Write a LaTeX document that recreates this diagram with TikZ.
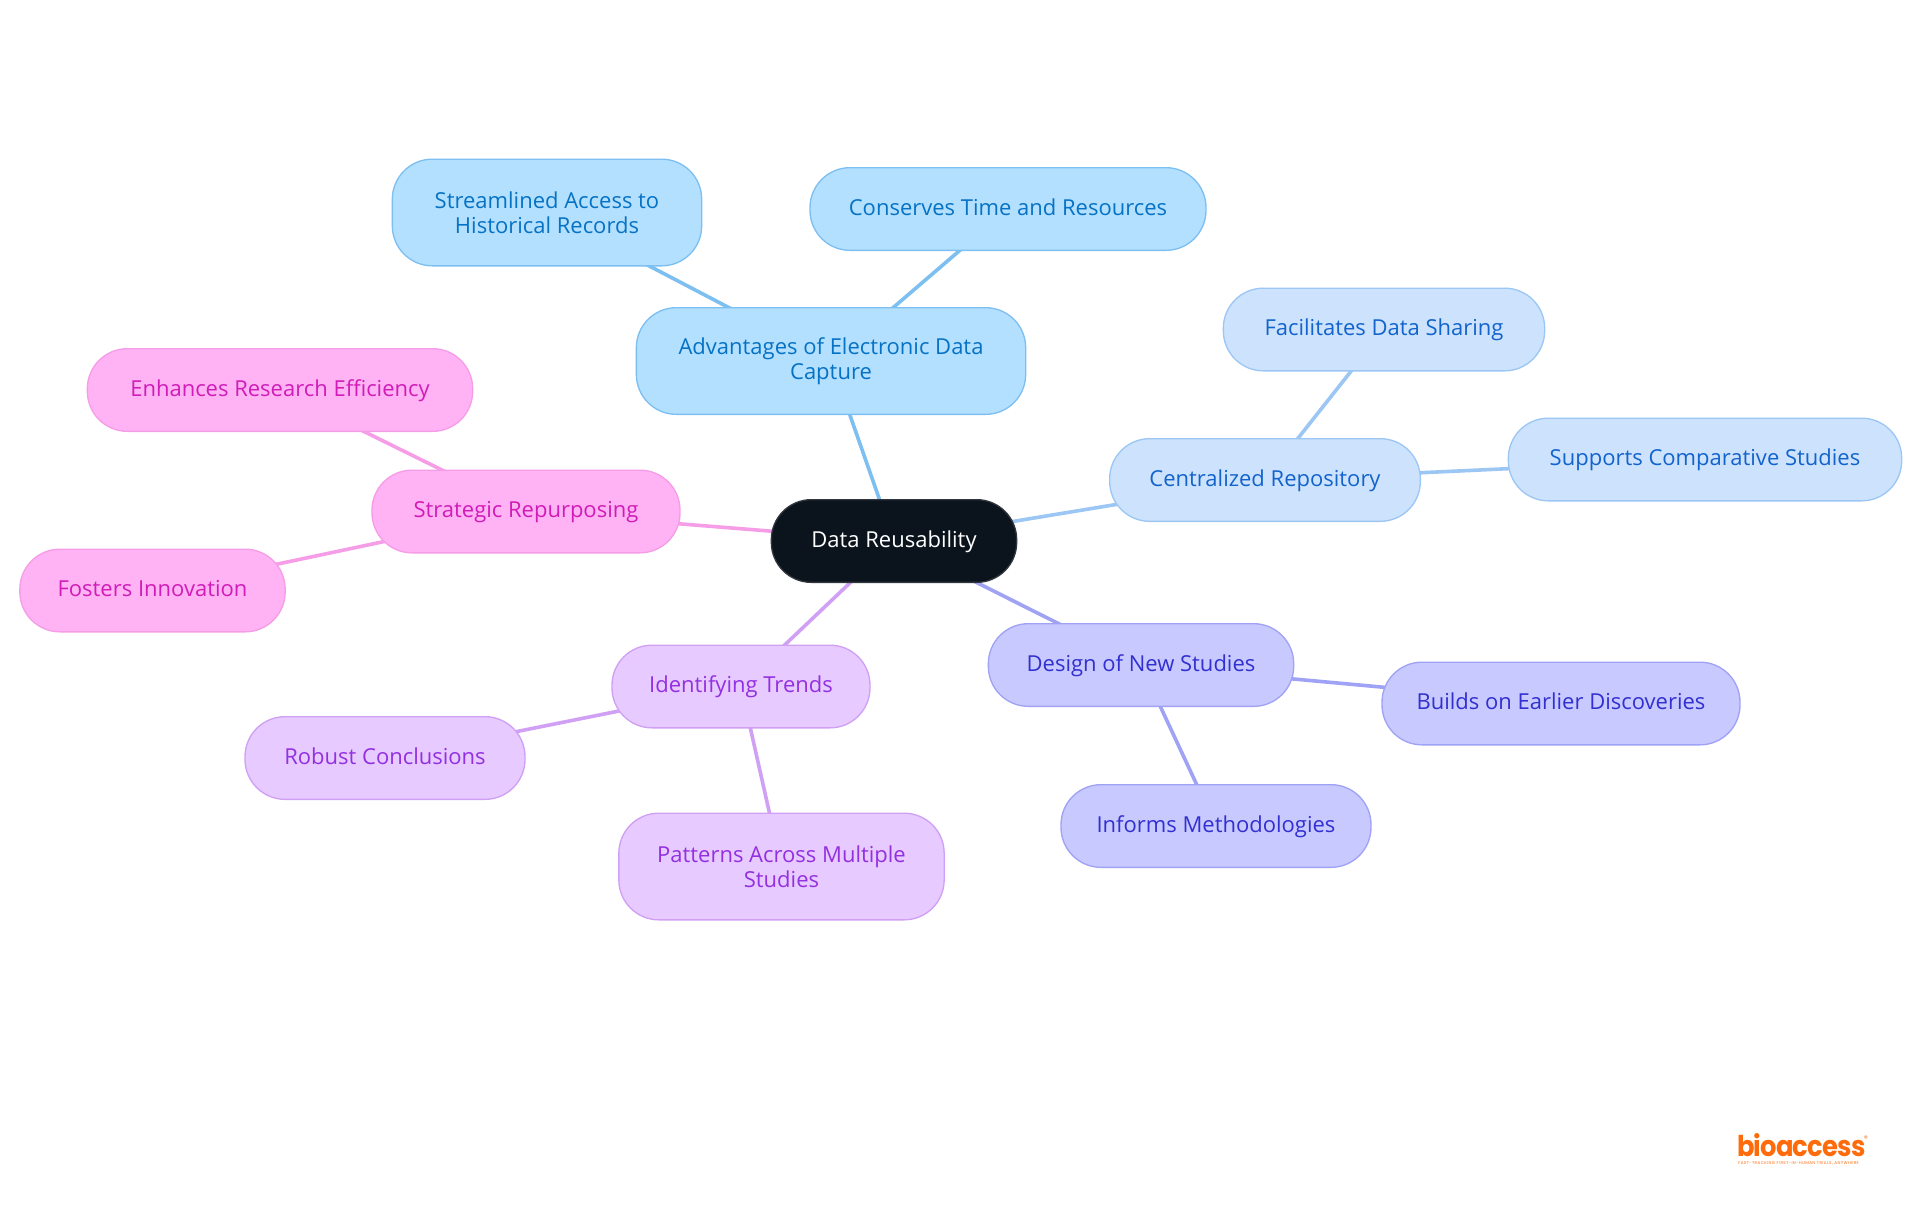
\documentclass[tikz,border=0pt]{standalone}
\usepackage{fontspec}
\usepackage{xcolor}
\setmainfont{Open Sans}
\newfontfamily\logofont[FakeStretch=0.9,LetterSpace=-3]{Poppins}
\newfontfamily\tagfont[LetterSpace=9.5]{Poppins}
\newfontfamily\markfont{Poppins}
\usetikzlibrary{backgrounds}

\definecolor{rootfill}{HTML}{0B131C}
\definecolor{skyfill}{HTML}{B4E0FF}
\definecolor{skyline}{HTML}{7DBFF0}
\definecolor{skytext}{HTML}{0672C4}
\definecolor{bluefill}{HTML}{CDE3FD}
\definecolor{blueline}{HTML}{9CC6F3}
\definecolor{bluetext}{HTML}{1263CC}
\definecolor{indigofill}{HTML}{C8CAFF}
\definecolor{indigoline}{HTML}{A0A2F5}
\definecolor{indigotext}{HTML}{3230D0}
\definecolor{purplefill}{HTML}{E7CAFF}
\definecolor{purpleline}{HTML}{D0A0F5}
\definecolor{purpletext}{HTML}{9330E0}
\definecolor{pinkfill}{HTML}{FFB3F4}
\definecolor{pinkline}{HTML}{F59DE6}
\definecolor{pinktext}{HTML}{D01CB8}
\definecolor{logoorange}{HTML}{FF6B0A}

\begin{document}
\begin{tikzpicture}[
    x=0.75pt, y=-0.75pt,
    mind/.style={rectangle, rounded corners=30pt, inner sep=0pt, line width=1pt, align=center,
        minimum height=62pt, text height=12pt, text depth=3pt, font=\fontsize{16.5}{18.4}\selectfont},
    tall/.style={minimum height=80pt, text height=, text depth=},
    rootnode/.style={mind, draw=rootfill!85!white, fill=rootfill, text=white},
    skynode/.style={mind, draw=skyline, fill=skyfill, text=skytext},
    bluenode/.style={mind, draw=blueline, fill=bluefill, text=bluetext},
    indigonode/.style={mind, draw=indigoline, fill=indigofill, text=indigotext},
    purplenode/.style={mind, draw=purpleline, fill=purplefill, text=purpletext},
    pinknode/.style={mind, draw=pinkline, fill=pinkfill, text=pinktext},
    edge/.style={line width=2.7pt}
]
    \useasboundingbox (0,0) rectangle (1920,1215);

    \node[rootnode, minimum width=184pt] (root) at (894, 541) {Data Reusability};

    \node[skynode, tall, minimum width=292pt] (advantages) at (831, 361) {Advantages of Electronic Data\\Capture};
    \node[skynode, tall, minimum width=232pt] (streamlined) at (547, 212.5) {Streamlined Access to\\Historical Records};
    \node[skynode, minimum width=297pt] (conserves) at (1008, 209) {Conserves Time and Resources};

    \node[bluenode, minimum width=233pt] (centralized) at (1265, 480) {Centralized Repository};
    \node[bluenode, minimum width=241pt] (facilitates) at (1384, 329.5) {Facilitates Data Sharing};
    \node[bluenode, minimum width=295pt] (supports) at (1705, 459.5) {Supports Comparative Studies};

    \node[indigonode, minimum width=229pt] (design) at (1141, 665) {Design of New Studies};
    \node[indigonode, minimum width=268.5pt] (builds) at (1561, 703.5) {Builds on Earlier Discoveries};
    \node[indigonode, minimum width=232.5pt] (informs) at (1216, 826) {Informs Methodologies};

    \node[purplenode, minimum width=193.5pt] (identifying) at (741, 686.5) {Identifying Trends};
    \node[purplenode, minimum width=210pt] (robust) at (385, 758) {Robust Conclusions};
    \node[purplenode, tall, minimum width=244pt] (patterns) at (781.5, 866.5) {Patterns Across Multiple\\Studies};

    \node[pinknode, minimum width=231pt] (strategic) at (526, 511.5) {Strategic Repurposing};
    \node[pinknode, minimum width=289pt] (enhances) at (280, 390) {Enhances Research Efficiency};
    \node[pinknode, minimum width=199pt] (fosters) at (152.5, 590.5) {Fosters Innovation};

    % connectors go behind the boxes
    \begin{scope}[on background layer]
        \draw[edge, skyline] (root.center) -- (advantages.center);
        \draw[edge, skyline] (advantages.center) -- (streamlined.center);
        \draw[edge, skyline] (advantages.center) -- (conserves.center);
        \draw[edge, blueline] (root.center) -- (centralized.center);
        \draw[edge, blueline] (centralized.center) -- (facilitates.center);
        \draw[edge, blueline] (centralized.center) -- (supports.center);
        \draw[edge, indigoline] (root.center) -- (design.center);
        \draw[edge, indigoline] (design.center) -- (builds.center);
        \draw[edge, indigoline] (design.center) -- (informs.center);
        \draw[edge, purpleline] (root.center) -- (identifying.center);
        \draw[edge, purpleline] (identifying.center) -- (robust.center);
        \draw[edge, purpleline] (identifying.center) -- (patterns.center);
        \draw[edge, pinkline] (root.center) -- (strategic.center);
        \draw[edge, pinkline] (strategic.center) -- (enhances.center);
        \draw[edge, pinkline] (strategic.center) -- (fosters.center);
    \end{scope}

    % logo
    \node[inner sep=0pt, text=logoorange, anchor=base west, font=\logofont\bfseries\fontsize{21.5}{21.5}\selectfont] (logo) at (1737, 1156.5) {bioaccess};
    \node[inner sep=0pt, text=logoorange, font=\markfont\fontsize{6}{6}\selectfont] (mark) at (1866, 1139) {®};
    \node[inner sep=0pt, text=logoorange, anchor=west, font=\tagfont\fontsize{3.1}{4}\selectfont] (tagline) at (1738, 1163) {FAST-TRACKING FIRST-IN-HUMAN TRIALS, ANYWHERE};
\end{tikzpicture}
\end{document}
